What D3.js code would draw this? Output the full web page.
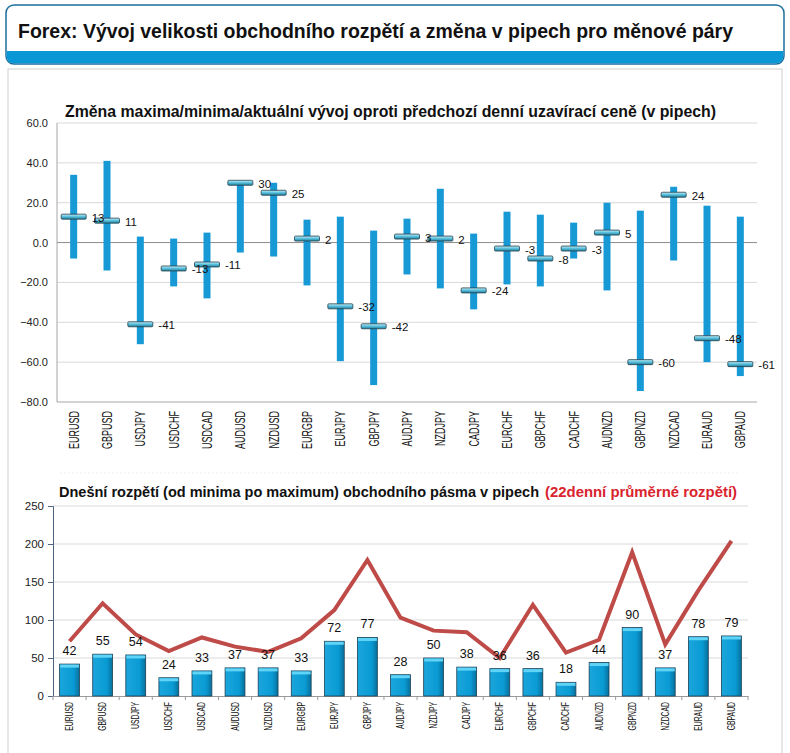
<!DOCTYPE html>
<html>
<meta charset="utf-8">
<title>Forex rozpětí</title>
<head>
  <script src="https://cdnjs.cloudflare.com/ajax/libs/d3/7.8.5/d3.min.js"></script>
  <style>
    body { margin: 0; background: #fff; }
    text { font-family: "Liberation Sans", Arial, sans-serif; }
  </style>
</head>
<body>
<script>
  // menove pary
  var pairs = ["EURUSD","GBPUSD","USDJPY","USDCHF","USDCAD","AUDUSD","NZDUSD","EURGBP","EURJPY","GBPJPY",
    "AUDJPY","NZDJPY","CADJPY","EURCHF","GBPCHF","CADCHF","AUDNZD","GBPNZD","NZDCAD","EURAUD","GBPAUD"];
  // horni graf: maximum / minimum / aktualni zmena (v pipech)
  var highs = [34, 41, 3, 2, 5, 31, 30, 11.5, 13, 6, 12, 27, 4.5, 15.5, 14, 10, 20, 16, 28, 18.5, 13];
  var lows = [-8, -14, -51, -22, -28, -5, -7, -21.5, -59.5, -71.5, -16, -23, -33.5, -21, -22, -8, -24, -74.5, -9, -60, -67];
  var current = [13, 11, -41, -13, -11, 30, 25, 2, -32, -42, 3, 2, -24, -3, -8, -3, 5, -60, 24, -48, -61];
  var topTicks = [60, 40, 20, 0, -20, -40, -60, -80];
  // dolni graf: dnesni rozpeti a 22denni prumer
  var ranges = [42, 55, 54, 24, 33, 37, 37, 33, 72, 77, 28, 50, 38, 36, 36, 18, 44, 90, 37, 78, 79];
  var avg22 = [72, 122, 81, 59, 77, 65, 58, 76, 113, 179, 103, 86, 84, 50, 120, 57, 74, 189, 68, 139, 204];
  var bottomTicks = [0, 50, 100, 150, 200, 250];

  var svg = d3.select("body").append("svg")
    .attr("width", 790)
    .attr("height", 753);

  var defs = svg.append("defs");
  var mg = defs.append("linearGradient").attr("id", "marker").attr("x1", 0).attr("y1", 0).attr("x2", 0).attr("y2", 1);
  mg.append("stop").attr("offset", "0%").attr("stop-color", "#c8eef8");
  mg.append("stop").attr("offset", "45%").attr("stop-color", "#5ec4e0");
  mg.append("stop").attr("offset", "100%").attr("stop-color", "#1f7d9c");
  var bg = defs.append("linearGradient").attr("id", "bar").attr("x1", 0).attr("y1", 0).attr("x2", 1).attr("y2", 0);
  bg.append("stop").attr("offset", "0%").attr("stop-color", "#1aa6dc");
  bg.append("stop").attr("offset", "70%").attr("stop-color", "#0a9bd4");
  bg.append("stop").attr("offset", "100%").attr("stop-color", "#07709c");

  // hlavicka
  svg.append("rect")
    .attr("x", 6).attr("y", 5).attr("width", 778).attr("height", 59).attr("rx", 8)
    .attr("fill", "#fff").attr("stroke", "#1b6f9e").attr("stroke-width", 1.5);
  svg.append("path")
    .attr("d", "M6.75,51 H783.25 V56 Q783.25,63.25 776,63.25 H14 Q6.75,63.25 6.75,56 Z")
    .attr("fill", "#0a97d6");
  svg.append("text")
    .attr("x", 18).attr("y", 38)
    .attr("font-size", 20).attr("font-weight", "bold").attr("fill", "#111")
    .attr("textLength", 715).attr("lengthAdjust", "spacingAndGlyphs")
    .text("Forex: Vývoj velikosti obchodního rozpětí a změna v pipech pro měnové páry");

  // panel
  svg.append("rect")
    .attr("x", 8).attr("y", 69).attr("width", 774).attr("height", 700)
    .attr("fill", "none").attr("stroke", "#cfcfcf");
  svg.append("line")
    .attr("x1", 60).attr("x2", 740).attr("y1", 473).attr("y2", 473)
    .attr("stroke", "#eeeeee").attr("stroke-dasharray", "2,2");

  // ---------- horni graf ----------
  var x1 = d3.scaleBand().domain(pairs).range([57, 757]);
  var y1 = d3.scaleLinear().domain([-80, 60]).range([402, 123]);

  svg.append("text")
    .attr("x", 65).attr("y", 117)
    .attr("font-size", 17).attr("font-weight", "bold").attr("fill", "#111")
    .attr("textLength", 651).attr("lengthAdjust", "spacingAndGlyphs")
    .text("Změna maxima/minima/aktuální vývoj oproti předchozí denní uzavírací ceně (v pipech)");

  var topG = svg.append("g");
  topG.selectAll("line.grid").data(topTicks).enter().append("line")
    .attr("x1", 57).attr("x2", 757)
    .attr("y1", function(d) { return y1(d); }).attr("y2", function(d) { return y1(d); })
    .attr("stroke", function(d) { return d === 0 ? "#8c8c8c" : (d === -80 ? "#a6a6a6" : "#d9d9d9"); })
    .attr("stroke-width", 1);
  topG.append("line")
    .attr("x1", 57).attr("x2", 57).attr("y1", y1(60)).attr("y2", y1(-80))
    .attr("stroke", "#a6a6a6");
  topG.selectAll("text.ytick").data(topTicks).enter().append("text")
    .attr("x", 48).attr("y", function(d) { return y1(d) + 4; })
    .attr("text-anchor", "end").attr("font-size", 11).attr("fill", "#222")
    .text(function(d) { return d3.format(".1f")(d); });

  topG.selectAll("rect.range").data(pairs).enter().append("rect")
    .attr("x", function(d) { return x1(d) + x1.bandwidth() / 2 - 3.5; })
    .attr("width", 7)
    .attr("y", function(d, i) { return y1(highs[i]); })
    .attr("height", function(d, i) { return y1(lows[i]) - y1(highs[i]); })
    .attr("fill", "#1799d6");

  topG.selectAll("rect.marker").data(pairs).enter().append("rect")
    .attr("x", function(d) { return x1(d) + x1.bandwidth() / 2 - 12.5; })
    .attr("width", 25)
    .attr("y", function(d, i) { return y1(current[i]) - 2.5; })
    .attr("height", 5)
    .attr("rx", 1)
    .attr("fill", "url(#marker)").attr("stroke", "#24404a").attr("stroke-width", 0.8);

  topG.selectAll("text.val").data(pairs).enter().append("text")
    .attr("x", function(d) { return x1(d) + x1.bandwidth() / 2 + 18; })
    .attr("y", function(d, i) { return y1(current[i]) + 5; })
    .attr("font-size", 11.5).attr("fill", "#111")
    .text(function(d, i) { return current[i]; });

  topG.selectAll("text.xlab").data(pairs).enter().append("text")
    .attr("transform", function(d) { return "translate(" + (x1(d) + x1.bandwidth() / 2 + 5) + ",411) rotate(-90) scale(0.6,1)"; })
    .attr("text-anchor", "end").attr("font-size", 15).attr("fill", "#111")
    .text(function(d) { return d; });

  // ---------- dolni graf ----------
  var x2 = d3.scaleBand().domain(pairs).range([53, 748]).paddingInner(0.4).paddingOuter(0.2);
  var x2b = d3.scaleBand().domain(pairs).range([53, 748]);
  var y2 = d3.scaleLinear().domain([0, 250]).range([696, 506]);

  svg.append("text")
    .attr("x", 59).attr("y", 497)
    .attr("font-size", 15).attr("font-weight", "bold").attr("fill", "#111")
    .attr("textLength", 480).attr("lengthAdjust", "spacingAndGlyphs")
    .text("Dnešní rozpětí (od minima po maximum) obchodního pásma v pipech");
  svg.append("text")
    .attr("x", 545).attr("y", 497)
    .attr("font-size", 15).attr("font-weight", "bold").attr("fill", "#d9232e")
    .attr("textLength", 192).attr("lengthAdjust", "spacingAndGlyphs")
    .text("(22denní průměrné rozpětí)");

  var botG = svg.append("g");
  botG.selectAll("line.grid").data(bottomTicks.slice(1)).enter().append("line")
    .attr("x1", 53).attr("x2", 748)
    .attr("y1", function(d) { return y2(d); }).attr("y2", function(d) { return y2(d); })
    .attr("stroke", "#d9d9d9");

  var yAxis = d3.axisLeft(y2).tickValues(bottomTicks).tickSize(5).tickPadding(4);
  var ya = botG.append("g").attr("transform", "translate(53,0)").call(yAxis);
  ya.select(".domain").attr("stroke", "#4f6282");
  ya.selectAll(".tick line").attr("stroke", "#4f6282");
  ya.selectAll(".tick text").attr("font-size", 11.5).attr("fill", "#222")
    .attr("font-family", "Liberation Sans, Arial, sans-serif");

  var xAxis = d3.axisBottom(x2b).tickValues([]).tickSizeOuter(0);
  var xa = botG.append("g").attr("transform", "translate(0,696)").call(xAxis);
  xa.select(".domain").attr("stroke", "#9a9a9a");
  xa.selectAll("line.sep").data(pairs.concat(["end"])).enter().append("line")
    .attr("class", "sep")
    .attr("x1", function(d, i) { return 53 + i * x2b.step(); })
    .attr("x2", function(d, i) { return 53 + i * x2b.step(); })
    .attr("y1", 0).attr("y2", 4)
    .attr("stroke", "#9a9a9a");

  var bars = botG.selectAll("g.bar").data(pairs).enter().append("g");
  bars.append("rect")
    .attr("x", function(d) { return x2(d); })
    .attr("width", x2.bandwidth())
    .attr("y", function(d, i) { return y2(ranges[i]); })
    .attr("height", function(d, i) { return y2(0) - y2(ranges[i]); })
    .attr("fill", "url(#bar)").attr("stroke", "#1d3f55").attr("stroke-width", 0.8);
  bars.append("rect")
    .attr("x", function(d) { return x2(d) + 0.5; })
    .attr("width", x2.bandwidth() - 1)
    .attr("y", function(d, i) { return y2(ranges[i]) + 0.5; })
    .attr("height", 3)
    .attr("fill", "#5fd4f6");

  var line = d3.line()
    .x(function(d, i) { return x2b(pairs[i]) + x2b.bandwidth() / 2; })
    .y(function(d) { return y2(d); });
  botG.append("path")
    .datum(avg22)
    .attr("d", line)
    .attr("fill", "none").attr("stroke", "#be4b48").attr("stroke-width", 4)
    .attr("stroke-linejoin", "miter");

  botG.selectAll("text.val").data(pairs).enter().append("text")
    .attr("x", function(d) { return x2b(d) + x2b.bandwidth() / 2; })
    .attr("y", function(d, i) { return y2(ranges[i]) - 9; })
    .attr("text-anchor", "middle").attr("font-size", 12.5).attr("fill", "#111")
    .text(function(d, i) { return ranges[i]; });

  botG.selectAll("text.xlab").data(pairs).enter().append("text")
    .attr("transform", function(d) { return "translate(" + (x2b(d) + x2b.bandwidth() / 2 + 3.5) + ",702) rotate(-90) scale(0.62,1)"; })
    .attr("text-anchor", "end").attr("font-size", 11).attr("fill", "#111")
    .text(function(d) { return d; });
</script>
</body>
</html>
